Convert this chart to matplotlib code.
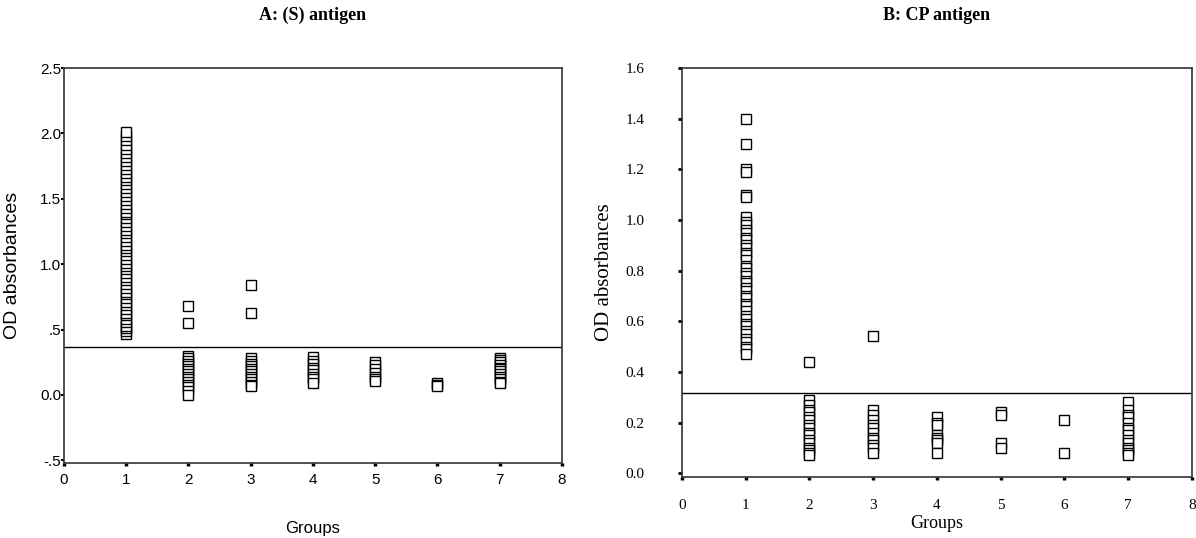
import matplotlib
matplotlib.use("Agg")
import matplotlib.pyplot as plt

# Groups and OD values, panel A: (S) antigen
a_groups = [1, 2, 3, 4, 5, 6, 7]
a_values = [
    [0.47, 0.49, 0.51, 0.53, 0.56, 0.58, 0.61, 0.63, 0.66, 0.69, 0.71, 0.74, 0.77, 0.79,
     0.82, 0.85, 0.88, 0.90, 0.93, 0.96, 0.99, 1.01, 1.04, 1.07, 1.10, 1.12, 1.15, 1.18,
     1.21, 1.24, 1.26, 1.29, 1.32, 1.35, 1.38, 1.40, 1.43, 1.46, 1.49, 1.52, 1.55, 1.58,
     1.61, 1.64, 1.67, 1.70, 1.73, 1.76, 1.79, 1.82, 1.85, 1.88, 1.91, 1.95, 1.98, 2.01],
    [0.68, 0.55, 0.30, 0.28, 0.26, 0.24, 0.22, 0.20, 0.18, 0.16, 0.14, 0.12, 0.10, 0.08,
     0.06, 0.03, 0.0],
    [0.84, 0.63, 0.28, 0.26, 0.24, 0.22, 0.20, 0.18, 0.16, 0.14, 0.12, 0.10, 0.08, 0.07],
    [0.29, 0.26, 0.24, 0.21, 0.19, 0.16, 0.14, 0.12, 0.09],
    [0.25, 0.23, 0.20, 0.17, 0.14, 0.12, 0.11],
    [0.09, 0.08, 0.07],
    [0.28, 0.27, 0.25, 0.23, 0.21, 0.20, 0.18, 0.16, 0.14, 0.12, 0.10, 0.09],
]
a_cutoff = 0.37
a_yticks = [-0.5, 0.0, 0.5, 1.0, 1.5, 2.0, 2.5]
a_yticklabels = ["-.5", "0.0", ".5", "1.0", "1.5", "2.0", "2.5"]

# panel B: CP antigen
b_groups = [1, 2, 3, 4, 5, 6, 7]
b_values = [
    [1.40, 1.30, 1.20, 1.19, 1.10, 1.09, 1.01, 0.99, 0.98, 0.96, 0.95, 0.93, 0.92, 0.90,
     0.89, 0.87, 0.86, 0.84, 0.82, 0.81, 0.79, 0.78, 0.76, 0.75, 0.73, 0.72, 0.70, 0.69,
     0.67, 0.66, 0.64, 0.62, 0.61, 0.59, 0.58, 0.56, 0.55, 0.53, 0.52, 0.50, 0.49, 0.47],
    [0.44, 0.29, 0.27, 0.25, 0.24, 0.22, 0.21, 0.19, 0.18, 0.16, 0.15, 0.13, 0.12, 0.10,
     0.09, 0.08, 0.07],
    [0.54, 0.25, 0.23, 0.21, 0.19, 0.18, 0.16, 0.14, 0.13, 0.11, 0.10, 0.08],
    [0.22, 0.20, 0.19, 0.15, 0.14, 0.13, 0.12, 0.08],
    [0.24, 0.23, 0.12, 0.10],
    [0.21, 0.08],
    [0.28, 0.25, 0.23, 0.22, 0.20, 0.18, 0.17, 0.15, 0.13, 0.12, 0.10, 0.09, 0.08, 0.07],
]
b_cutoff = 0.317
b_yticks = [0.0, 0.2, 0.4, 0.6, 0.8, 1.0, 1.2, 1.4, 1.6]
b_yticklabels = ["0.0", "0.2", "0.4", "0.6", "0.8", "1.0", "1.2", "1.4", "1.6"]

xticks = [0, 1, 2, 3, 4, 5, 6, 7, 8]

fig = plt.figure(figsize=(11.96, 5.38), dpi=100)
axA = fig.add_axes([0.0535, 0.1394, 0.4164, 0.7342])
axB = fig.add_axes([0.5702, 0.1134, 0.4264, 0.7602])

sans = "Liberation Sans"
serif = "Liberation Serif"


def draw(ax, groups, values, cutoff):
    for g, vals in zip(groups, values):
        ax.plot([g] * len(vals), vals, linestyle="none", marker="s", markersize=7,
                markerfacecolor="white", markeredgecolor="black", markeredgewidth=1.0)
    ax.axhline(cutoff, color="black", linewidth=1.0)
    ax.set_xlim(0, 8)
    ax.set_xticks(xticks)
    for s in ax.spines.values():
        s.set_color("#333333")
        s.set_linewidth(1.2)


draw(axA, a_groups, a_values, a_cutoff)
axA.set_ylim(-0.52, 2.5)
axA.set_yticks(a_yticks)
axA.set_yticklabels(a_yticklabels, fontfamily=sans, fontsize=11)
axA.set_xticklabels([str(t) for t in xticks], fontfamily=sans, fontsize=11)
axA.tick_params(axis="y", length=2, width=1.5, pad=0)
axA.tick_params(axis="x", length=2, width=2.5, pad=5)
axA.set_ylabel("OD absorbances", fontfamily=sans, fontsize=14, labelpad=14)
axA.set_xlabel("Groups", fontfamily=sans, fontsize=12, labelpad=25)

draw(axB, b_groups, b_values, b_cutoff)
axB.set_ylim(-0.015, 1.6)
axB.set_yticks(b_yticks)
axB.set_yticklabels(b_yticklabels, fontfamily=serif, fontsize=11)
axB.set_xticklabels([str(t) for t in xticks], fontfamily=serif, fontsize=11)
axB.tick_params(axis="y", length=3, width=2, pad=24)
axB.tick_params(axis="x", length=2, width=2.5, pad=14)
axB.set_ylabel("OD absorbances", fontfamily=serif, fontsize=15, labelpad=8)
axB.set_xlabel("Groups", fontfamily=serif, fontsize=13, labelpad=2)

fig.text(0.2617, 0.972, "A: (S) antigen", ha="center", va="center",
         fontfamily=serif, fontweight="bold", fontsize=13)
fig.text(0.7834, 0.972, "B: CP antigen", ha="center", va="center",
         fontfamily=serif, fontweight="bold", fontsize=13)

fig.savefig("out.png", dpi=100)
